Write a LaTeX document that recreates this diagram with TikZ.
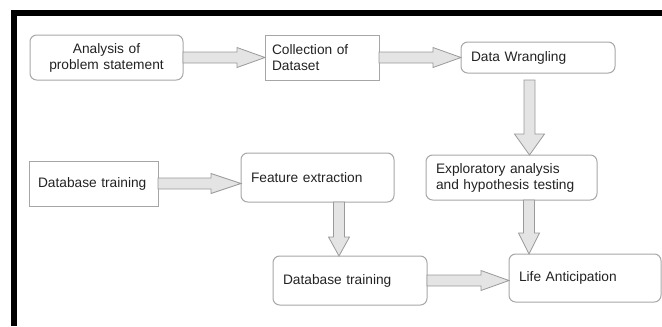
\documentclass[tikz,border=0pt]{standalone}
\usepackage{fontspec}
\setmainfont{Liberation Sans}
\usetikzlibrary{calc}
\definecolor{boxline}{HTML}{A6A6A6}
\definecolor{arrfill}{HTML}{E4E4E4}
\definecolor{arrline}{HTML}{9A9A9A}
\definecolor{txt}{HTML}{222222}
\newcommand{\hblk}[4]{\draw[blk] ($(#1)+(0,-5.5)$) -- ($(#2)+(-#4,-5.5)$) -- ($(#2)+(-#4,-#3)$) -- (#2) -- ($(#2)+(-#4,#3)$) -- ($(#2)+(-#4,5.5)$) -- ($(#1)+(0,5.5)$) -- cycle;}
\newcommand{\vblk}[4]{\draw[blk] ($(#1)+(-5.5,0)$) -- ($(#2)+(-5.5,-#4)$) -- ($(#2)+(-#3,-#4)$) -- (#2) -- ($(#2)+(#3,-#4)$) -- ($(#2)+(5.5,-#4)$) -- ($(#1)+(5.5,0)$) -- cycle;}
\tikzset{
  box/.style={draw=boxline, line width=0.75pt, rounded corners=5pt, inner ysep=0pt, outer sep=0pt,
    font=\fontsize{10.3}{12}\selectfont, text=txt, align=left},
  sharpbox/.style={box, rounded corners=0pt},
  blk/.style={fill=arrfill, draw=arrline, line width=0.6pt, line join=miter}
}
\begin{document}
\begin{tikzpicture}[x=0.75pt,y=-0.75pt]
\useasboundingbox (0,0) rectangle (662,326);
% frame
\fill[black] (11,10) rectangle (662,15.5);
\fill[black] (11,10) rectangle (16.5,326);
% boxes
\node[box, align=center, text width=99.75pt, inner xsep=7.5pt, minimum height=33.75pt] (an) at (106.5,57.5) {Analysis of\\problem statement};
\node[sharpbox, text width=75pt, inner xsep=5.25pt, minimum height=33.75pt] (cd) at (322,57.5) {Collection of\\Dataset};
\node[box, text width=100.5pt, inner xsep=7.5pt, minimum height=23.25pt] (dw) at (538,57.5) {Data Wrangling};
\node[box, text width=113.25pt, inner xsep=7.5pt, minimum height=33.75pt] (ea) at (511.5,177.5) {Exploratory analysis\\and hypothesis testing};
\node[sharpbox, text width=83.25pt, inner xsep=6.75pt, minimum height=33.75pt] (db1) at (93.5,183.5) {Database training};
\node[box, text width=99.75pt, inner xsep=7.5pt, minimum height=36.75pt] (fe) at (317.5,177.5) {Feature extraction};
\node[box, text width=100.5pt, inner xsep=7.5pt, minimum height=36.75pt] (db2) at (350,280.5) {Database training};
\node[box, text width=99pt, inner xsep=7.5pt, minimum height=36pt] (la) at (585,278) {Life Anticipation};
% arrow end points
\coordinate (a2e) at (dw.west |- cd.east);
\coordinate (a3s) at ($(dw.south)+(-8.5,7)$);
\coordinate (a3e) at (a3s |- ea.north);
\coordinate (a4e) at (fe.west |- db1.east);
\coordinate (a5s) at ($(fe.south)+(21.5,0)$);
\coordinate (a5e) at (a5s |- db2.north);
\coordinate (a6s) at ($(ea.south)+(17.5,0)$);
\coordinate (a6e) at (a6s |- la.north);
\coordinate (a7e) at (la.west |- db2.east);
% block arrows
\hblk{an.east}{cd.west}{10}{28}
\hblk{cd.east}{a2e}{10}{28}
\vblk{a3s}{a3e}{15}{21}
\hblk{db1.east}{a4e}{10}{30}
\vblk{a5s}{a5e}{10.5}{19}
\vblk{a6s}{a6e}{10.5}{21}
\hblk{db2.east}{a7e}{10}{28}
\end{tikzpicture}
\end{document}
